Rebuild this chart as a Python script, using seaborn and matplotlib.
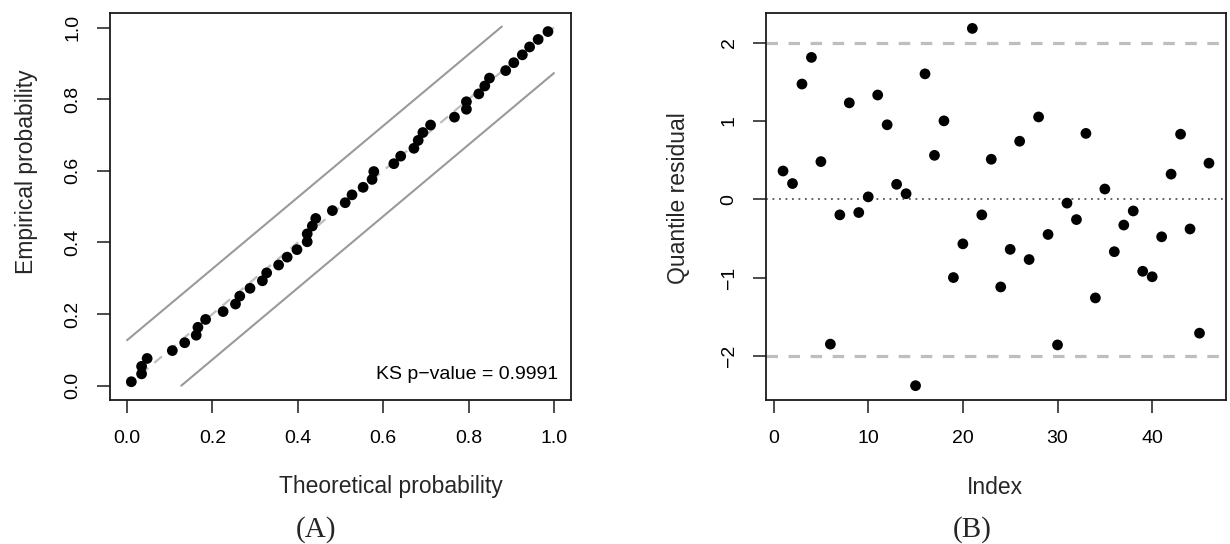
import matplotlib
matplotlib.use("Agg")
import matplotlib.pyplot as plt
import seaborn as sns
import pandas as pd

# ---- data ----
theoretical = [0.010, 0.034, 0.034, 0.047, 0.106, 0.135, 0.162, 0.166, 0.184, 0.225,
               0.254, 0.264, 0.288, 0.317, 0.327, 0.355, 0.375, 0.398, 0.422, 0.422,
               0.434, 0.442, 0.481, 0.511, 0.527, 0.553, 0.574, 0.578, 0.625, 0.641,
               0.672, 0.682, 0.693, 0.711, 0.767, 0.795, 0.795, 0.824, 0.838, 0.849,
               0.887, 0.906, 0.926, 0.943, 0.963, 0.986]
empirical = [0.011, 0.033, 0.054, 0.076, 0.098, 0.120, 0.141, 0.163, 0.185, 0.207,
             0.228, 0.250, 0.272, 0.293, 0.315, 0.337, 0.359, 0.380, 0.402, 0.424,
             0.446, 0.467, 0.489, 0.511, 0.533, 0.554, 0.576, 0.598, 0.620, 0.641,
             0.663, 0.685, 0.707, 0.728, 0.750, 0.772, 0.793, 0.815, 0.837, 0.859,
             0.880, 0.902, 0.924, 0.946, 0.967, 0.989]
diag_x = [0.0, 1.0]
diag_y = [0.0, 1.0]
upper_band_x = [0.0, 0.878]
upper_band_y = [0.127, 1.003]
lower_band_x = [0.127, 1.0]
lower_band_y = [0.0, 0.873]
ks_label = "KS p\u2212value = 0.9991"

index = list(range(1, 47))
residual = [0.36, 0.20, 1.47, 1.81, 0.48, -1.85, -0.20, 1.23, -0.17, 0.03,
            1.33, 0.95, 0.19, 0.07, -2.38, 1.60, 0.56, 1.00, -1.00, -0.57,
            2.18, -0.20, 0.51, -1.12, -0.64, 0.74, -0.77, 1.05, -0.45, -1.86,
            -0.05, -0.26, 0.84, -1.26, 0.13, -0.67, -0.33, -0.15, -0.92, -0.99,
            -0.48, 0.32, 0.83, -0.38, -1.71, 0.46]
ref_levels = [-2, 2]
zero_level = 0

xticks_a = [0.0, 0.2, 0.4, 0.6, 0.8, 1.0]
yticks_a = [0.0, 0.2, 0.4, 0.6, 0.8, 1.0]
xticks_b = [0, 10, 20, 30, 40]
yticks_b = [-2, -1, 0, 1, 2]

df_a = pd.DataFrame({"theoretical": theoretical, "empirical": empirical})
df_b = pd.DataFrame({"index": index, "residual": residual})

# ---- style ----
sns.set_theme(style="white")
plt.rcParams["font.family"] = ["Liberation Sans", "DejaVu Sans"]
plt.rcParams["axes.unicode_minus"] = True

W, H = 1230, 544
fig = plt.figure(figsize=(W / 100, H / 100), dpi=100)
fig.patch.set_facecolor("white")

def px_rect(left, top, right, bottom):
    return [left / W, 1 - bottom / H, (right - left) / W, (bottom - top) / H]

ax_a = fig.add_axes(px_rect(110, 13.3, 571, 400))
ax_b = fig.add_axes(px_rect(766, 13.3, 1226, 400))

light_grey = "#bebebe"
band_grey = "#9a9a9a"

# ---- panel A ----
sns.lineplot(x=diag_x, y=diag_y, ax=ax_a, color=light_grey, lw=1.6,
             dashes=False, linestyle=(0, (4.5, 3.5)), zorder=1)
sns.lineplot(x=upper_band_x, y=upper_band_y, ax=ax_a, color=band_grey, lw=1.5, zorder=1)
sns.lineplot(x=lower_band_x, y=lower_band_y, ax=ax_a, color=band_grey, lw=1.5, zorder=1)
sns.scatterplot(data=df_a, x="theoretical", y="empirical", ax=ax_a, color="black",
                s=60, edgecolor="none", zorder=3)
ax_a.text(1.009, 0.03, ks_label, ha="right", va="center", fontsize=14, color="black")
ax_a.set_xlim(-0.04, 1.04)
ax_a.set_ylim(-0.04, 1.04)
ax_a.set_xticks(xticks_a)
ax_a.set_yticks(yticks_a)
ax_a.set_xticklabels([f"{v:.1f}" for v in xticks_a])
ax_a.set_yticklabels([f"{v:.1f}" for v in yticks_a])

# ---- panel B ----
for lv in ref_levels:
    ax_b.axhline(lv, color=light_grey, lw=2.3, linestyle=(0, (3.6, 3.3)), zorder=1)
ax_b.axhline(zero_level, color="#555555", lw=1.3, linestyle=(0, (1, 2.6)), zorder=1)
sns.scatterplot(data=df_b, x="index", y="residual", ax=ax_b, color="black",
                s=60, edgecolor="none", zorder=3)
ax_b.set_xlim(-0.8, 47.8)
ax_b.set_ylim(-2.563, 2.373)
ax_b.set_xticks(xticks_b)
ax_b.set_yticks(yticks_b)
ax_b.set_xticklabels([str(v) for v in xticks_b])
ax_b.set_yticklabels([str(v).replace("-", "\u2212") for v in yticks_b])

for ax in (ax_a, ax_b):
    ax.set_xlabel("")
    ax.set_ylabel("")
    for sp in ax.spines.values():
        sp.set_visible(True)
        sp.set_color("#1a1a1a")
        sp.set_linewidth(1.3)
    ax.tick_params(axis="both", which="both", direction="out", length=9.5, width=1.1,
                   color="#1a1a1a", labelsize=14, labelcolor="black", bottom=True, left=True)
    ax.tick_params(axis="x", pad=12)
    ax.tick_params(axis="y", pad=11, labelrotation=90)
    for lab in ax.get_yticklabels():
        lab.set_va("center")
    ax.grid(False)
    ax.set_facecolor("white")

# ---- axis titles and panel labels ----
fig.text(391 / W, 1 - 487 / H, "Theoretical probability", ha="center", va="center", fontsize=16.5)
fig.text(995 / W, 1 - 487 / H, "Index", ha="center", va="center", fontsize=16.5)
fig.text(27 / W, 1 - 172 / H, "Empirical probability", ha="center", va="center",
         rotation=90, fontsize=16.5)
fig.text(678 / W, 1 - 198 / H, "Quantile residual", ha="center", va="center",
         rotation=90, fontsize=16.5)
fig.text(316 / W, 1 - 530 / H, "(A)", ha="center", va="center", fontsize=21,
         family=["Liberation Serif", "DejaVu Serif"])
fig.text(972 / W, 1 - 530 / H, "(B)", ha="center", va="center", fontsize=21,
         family=["Liberation Serif", "DejaVu Serif"])

fig.savefig("out.png", dpi=100, facecolor="white")
